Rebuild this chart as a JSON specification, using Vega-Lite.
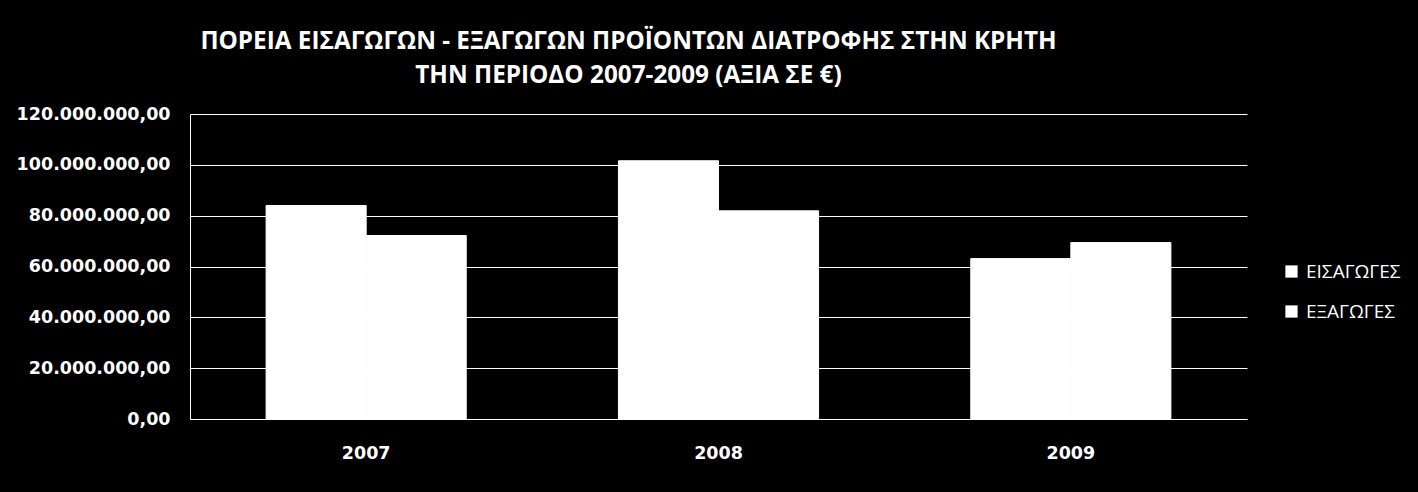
{
  "$schema": "https://vega.github.io/schema/vega-lite/v6.json",
  "background": "#000000",
  "autosize": {"type": "none"},
  "padding": {"left": 190, "top": 114, "right": 171, "bottom": 73},
  "width": 1057,
  "height": 305,
  "title": {
    "text": ["ΠΟΡΕΙΑ ΕΙΣΑΓΩΓΩΝ - ΕΞΑΓΩΓΩΝ ΠΡΟΪΟΝΤΩΝ ΔΙΑΤΡΟΦΗΣ ΣΤΗΝ ΚΡΗΤΗ", "ΤΗΝ ΠΕΡΙΟΔΟ 2007-2009 (ΑΞΙΑ ΣΕ €)"],
    "anchor": "middle",
    "frame": "group",
    "dx": -90,
    "offset": 17,
    "font": "Open Sans",
    "fontSize": 24.3,
    "fontWeight": "bold",
    "lineHeight": 34,
    "color": "#ffffff"
  },
  "data": {
    "values": [
      {"year": "2007", "series": "ΕΙΣΑΓΩΓΕΣ", "value": 84000000},
      {"year": "2007", "series": "ΕΞΑΓΩΓΕΣ", "value": 72200000},
      {"year": "2008", "series": "ΕΙΣΑΓΩΓΕΣ", "value": 101600000},
      {"year": "2008", "series": "ΕΞΑΓΩΓΕΣ", "value": 81900000},
      {"year": "2009", "series": "ΕΙΣΑΓΩΓΕΣ", "value": 63100000},
      {"year": "2009", "series": "ΕΞΑΓΩΓΕΣ", "value": 69400000}
    ]
  },
  "mark": {"type": "bar", "color": "#ffffff", "stroke": "#ffffff", "strokeWidth": 1},
  "encoding": {
    "x": {
      "field": "year",
      "type": "nominal",
      "title": null,
      "scale": {"paddingInner": 0.432, "paddingOuter": 0.216},
      "axis": {
        "labelAngle": 0,
        "labelFont": "DejaVu Sans",
        "labelFontSize": 17.5,
        "labelFontWeight": "bold",
        "labelColor": "#ffffff",
        "labelPadding": 25,
        "ticks": false,
        "domainColor": "#ffffff",
        "domainWidth": 1
      }
    },
    "xOffset": {
      "field": "series",
      "type": "nominal",
      "sort": ["ΕΙΣΑΓΩΓΕΣ", "ΕΞΑΓΩΓΕΣ"],
      "scale": {"paddingInner": 0, "paddingOuter": 0}
    },
    "y": {
      "field": "value",
      "type": "quantitative",
      "title": null,
      "scale": {"domain": [0, 120000000], "nice": false},
      "axis": {
        "values": [0, 20000000, 40000000, 60000000, 80000000, 100000000, 120000000],
        "format": ",.2f",
        "labelFont": "DejaVu Sans",
        "labelFontSize": 17.5,
        "labelFontWeight": "bold",
        "labelColor": "#ffffff",
        "labelPadding": 20,
        "ticks": false,
        "domainColor": "#ffffff",
        "domainWidth": 1,
        "grid": true,
        "gridColor": "#ffffff",
        "gridWidth": 1,
        "gridOpacity": 1
      }
    },
    "color": {
      "field": "series",
      "type": "nominal",
      "sort": ["ΕΙΣΑΓΩΓΕΣ", "ΕΞΑΓΩΓΕΣ"],
      "scale": {"domain": ["ΕΙΣΑΓΩΓΕΣ", "ΕΞΑΓΩΓΕΣ"], "range": ["#ffffff", "#ffffff"]},
      "legend": {
        "title": null,
        "orient": "none",
        "legendX": 1092,
        "legendY": 148,
        "padding": 0,
        "symbolType": "square",
        "symbolSize": 150,
        "symbolStrokeWidth": 0,
        "symbolOpacity": 1,
        "labelFont": "Open Sans",
        "labelFontSize": 19,
        "labelColor": "#ffffff",
        "labelOffset": 5,
        "rowPadding": 20
      }
    }
  },
  "config": {
    "view": {"stroke": null},
    "locale": {
      "number": {"decimal": ",", "thousands": ".", "grouping": [3], "currency": ["", " €"]}
    }
  }
}
